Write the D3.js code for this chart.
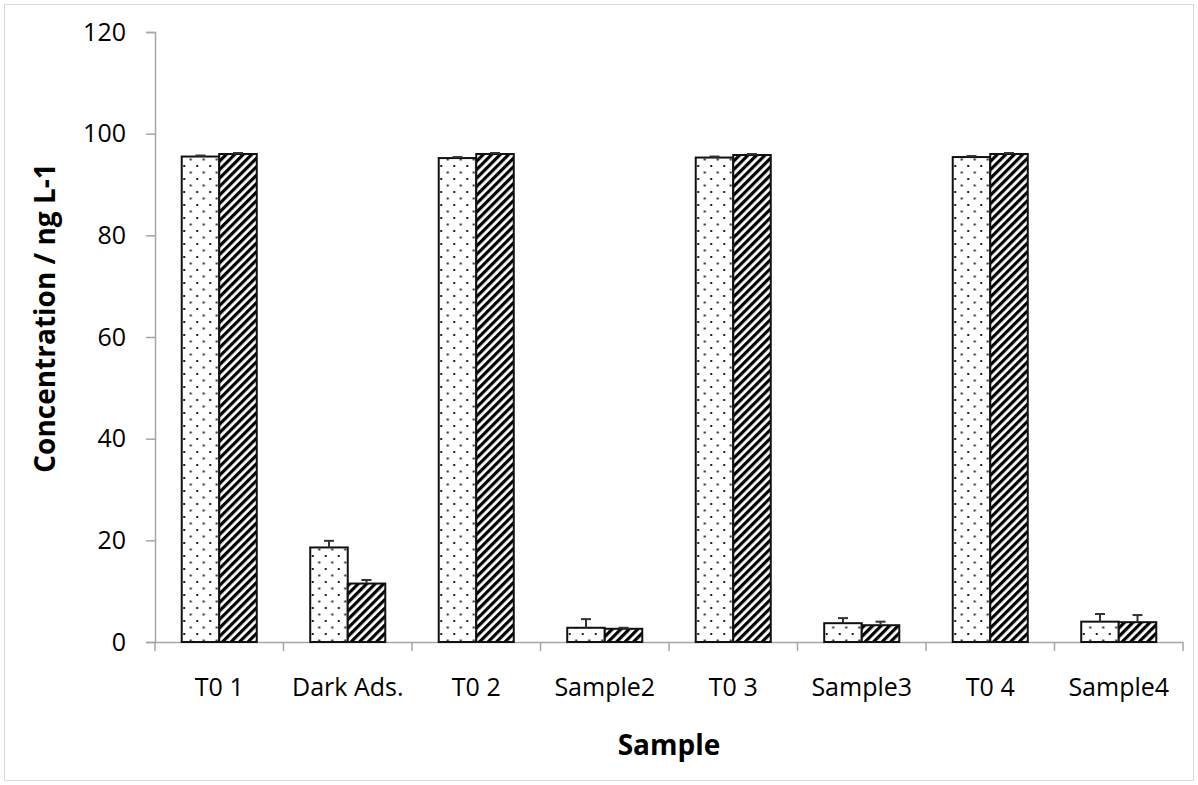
<!DOCTYPE html>
<html>
<head>
<meta charset="utf-8">
<script src="https://cdn.jsdelivr.net/npm/d3@7"></script>
<style>
  body { margin: 0; background: #fff; }
  svg { display: block; }
</style>
</head>
<body>
<div id="chart"></div>
<script>
// data
const categories = ['T0 1', 'Dark Ads.', 'T0 2', 'Sample2', 'T0 3', 'Sample3', 'T0 4', 'Sample4']
const seriesA = [95.5, 18.6, 95.2, 2.8, 95.3, 3.7, 95.4, 4.0]
const errorsA = [0.2, 1.3, 0.2, 1.7, 0.2, 1.0, 0.2, 1.5]
const seriesB = [96.0, 11.5, 96.0, 2.6, 95.8, 3.3, 96.0, 3.9]
const errorsB = [0.2, 0.7, 0.2, 0.2, 0.2, 0.7, 0.2, 1.4]
const yTicks = [0, 20, 40, 60, 80, 100, 120]

const font = '"Open Sans", "Liberation Sans", sans-serif'
const width = 1198
const height = 785
const margin = {left: 155, top: 32, right: 15, bottom: 143}
const plotWidth = width - margin.left - margin.right
const plotHeight = height - margin.top - margin.bottom

const svg = d3.select('#chart')
  .append('svg')
  .attr('width', width)
  .attr('height', height)
  .style('font-family', font)

// patterns
const defs = svg.append('defs')
const dots = defs.append('pattern')
  .attr('id', 'dots')
  .attr('patternUnits', 'userSpaceOnUse')
  .attr('width', 13)
  .attr('height', 13)
dots.append('rect').attr('width', 13).attr('height', 13).attr('fill', '#fff')
dots.append('rect').attr('x', 3).attr('y', 3).attr('width', 2).attr('height', 2).attr('fill', '#222')
dots.append('rect').attr('x', 9.5).attr('y', 9.5).attr('width', 2).attr('height', 2).attr('fill', '#222')

const hatch = defs.append('pattern')
  .attr('id', 'hatch')
  .attr('patternUnits', 'userSpaceOnUse')
  .attr('width', 6)
  .attr('height', 6)
  .attr('patternTransform', 'rotate(45)')
hatch.append('rect').attr('width', 6).attr('height', 6).attr('fill', '#fff')
hatch.append('rect').attr('width', 3.2).attr('height', 6).attr('fill', '#000')

// outer frame
svg.append('rect')
  .attr('x', 4.5).attr('y', 4.5)
  .attr('width', width - 9).attr('height', height - 9)
  .attr('fill', 'none')
  .attr('stroke', '#d9d9d9')

const g = svg.append('g')
  .attr('transform', `translate(${margin.left}, ${margin.top})`)

// scales
const yScale = d3.scaleLinear()
  .domain([0, 120])
  .range([plotHeight, 0])

const xScale = d3.scaleBand()
  .domain(categories)
  .range([0, plotWidth])
  .paddingInner(0)

const bw = xScale.bandwidth() * 0.292

// axes
const yAxis = d3.axisLeft(yScale)
  .tickValues(yTicks)
  .tickSize(9)
  .tickPadding(20)
const yg = g.append('g').call(yAxis)

const xAxis = d3.axisBottom(xScale)
  .tickSize(0)
  .tickPadding(36)
const xg = g.append('g')
  .attr('transform', `translate(0, ${plotHeight})`)
  .call(xAxis)

// category boundary ticks
xg.selectAll('.bound')
  .data(d3.range(categories.length + 1))
  .join('line')
  .attr('class', 'bound')
  .attr('x1', i => i * xScale.step())
  .attr('x2', i => i * xScale.step())
  .attr('y1', 0)
  .attr('y2', 9)
  .attr('stroke', '#a6a6a6')
  .attr('stroke-width', 1.5)

;[yg, xg].forEach(a => {
  a.attr('font-family', font).attr('font-size', 25)
  a.select('.domain').attr('stroke', '#a6a6a6').attr('stroke-width', 1.5)
  a.selectAll('.tick line').attr('stroke', '#a6a6a6').attr('stroke-width', 1.5)
  a.selectAll('.tick text').attr('fill', '#000')
})

// bars
const rows = categories.map((c, i) => ({
  key: c, a: seriesA[i], ea: errorsA[i], b: seriesB[i], eb: errorsB[i]
}))

const groups = g.selectAll('.grp')
  .data(rows)
  .join('g')
  .attr('class', 'grp')
  .attr('transform', d => `translate(${xScale(d.key) + xScale.bandwidth() / 2}, 0)`)

function errBar (sel, xOff, v, e) {
  sel.append('line')
    .attr('x1', xOff).attr('x2', xOff)
    .attr('y1', d => yScale(d[v]))
    .attr('y2', d => yScale(d[v] + d[e]))
    .attr('stroke', '#333').attr('stroke-width', 2)
  sel.append('line')
    .attr('x1', xOff - 5).attr('x2', xOff + 5)
    .attr('y1', d => yScale(d[v] + d[e]))
    .attr('y2', d => yScale(d[v] + d[e]))
    .attr('stroke', '#333').attr('stroke-width', 2)
}

groups.append('rect')
  .attr('x', -bw)
  .attr('y', d => yScale(d.a))
  .attr('width', bw)
  .attr('height', d => plotHeight - yScale(d.a))
  .attr('fill', 'url(#dots)')
  .attr('stroke', '#111')
  .attr('stroke-width', 2)

groups.append('rect')
  .attr('x', 0)
  .attr('y', d => yScale(d.b))
  .attr('width', bw)
  .attr('height', d => plotHeight - yScale(d.b))
  .attr('fill', 'url(#hatch)')
  .attr('stroke', '#111')
  .attr('stroke-width', 2)

errBar(groups, -bw / 2, 'a', 'ea')
errBar(groups, bw / 2, 'b', 'eb')

// axis titles
svg.append('text')
  .attr('transform', 'translate(55, 318) rotate(-90)')
  .attr('text-anchor', 'middle')
  .attr('font-size', 28)
  .attr('font-weight', 'bold')
  .text('Concentration / ng L-1')

svg.append('text')
  .attr('x', margin.left + plotWidth / 2)
  .attr('y', 755)
  .attr('text-anchor', 'middle')
  .attr('font-size', 28)
  .attr('font-weight', 'bold')
  .text('Sample')
</script>
</body>
</html>
